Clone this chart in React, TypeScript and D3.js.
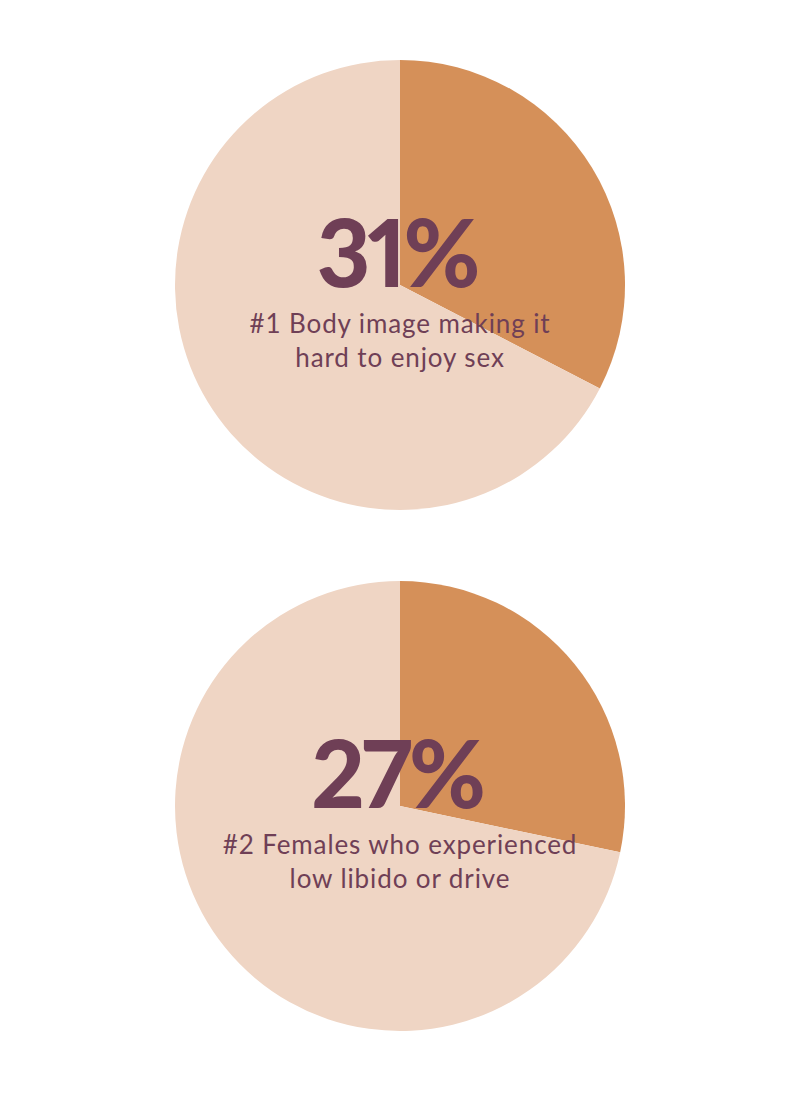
import React, { useEffect, useRef } from "react";
import * as d3 from "d3";

// two single-value pies
const headlines = ["31%", "27%"];
const shares = [32.6, 28.3]; // wedge size as drawn
const captionLines = [
  ["#1 Body image making it", "hard to enjoy sex"],
  ["#2 Females who experienced", "low libido or drive"],
];

const W = 800;
const H = 1093;
const accent = "#d59059";
const base = "#efd5c4";
const ink = "#6f3f56";

const App = () => {
  const ref = useRef<SVGSVGElement>(null);

  useEffect(() => {
    const svg = d3.select(ref.current);
    svg.selectAll("*").remove();

    const radius = 225;
    const centers = [285, 806];
    const pie = d3.pie<number>().sort(null);
    const arc = d3.arc<any>().innerRadius(0).outerRadius(radius);
    const color = d3.scaleOrdinal<number, string>().domain([0, 1]).range([accent, base]);

    shares.forEach((s, i) => {
      const g = svg.append("g").attr("transform", `translate(${W / 2},${centers[i]})`);
      g.selectAll("path")
        .data(pie([s, 100 - s]))
        .join("path")
        .attr("d", arc)
        .attr("fill", (d, j) => color(j));

      // big number
      g.append("text")
        .attr("x", -3)
        .attr("y", 2)
        .attr("text-anchor", "middle")
        .style("font-family", "Lato")
        .style("font-weight", 900)
        .style("font-size", "93px")
        .style("font-variant-numeric", "proportional-nums")
        .style("letter-spacing", "-3px")
        .attr("fill", ink)
        .text(headlines[i]);

      g.selectAll("text.cap")
        .data(captionLines[i])
        .join("text")
        .attr("class", "cap")
        .attr("x", 0)
        .attr("y", (d, j) => 48 + j * 34)
        .attr("text-anchor", "middle")
        .style("font-family", "Lato")
        .style("font-size", "26px")
        .style("letter-spacing", "0.9px")
        .attr("fill", ink)
        .text((d) => d);
    });
  }, []);

  return (
    <svg
      ref={ref}
      width={W}
      height={H}
      viewBox={`0 0 ${W} ${H}`}
      style={{ position: "absolute", left: 0, top: 0, background: "#fff" }}
    ></svg>
  );
};

export default App;
